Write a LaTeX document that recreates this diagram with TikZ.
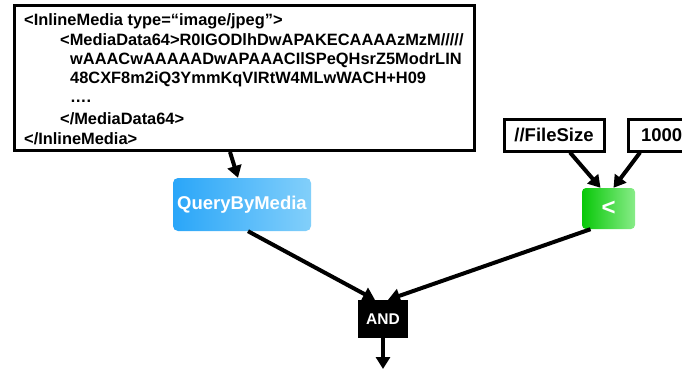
\documentclass[tikz,border=0pt]{standalone}
\usepackage{fontspec}
\setmainfont{Liberation Sans}
\usetikzlibrary{arrows.meta,calc}
\definecolor{qleft}{HTML}{2AA6F9}
\definecolor{qright}{HTML}{82CFFA}
\definecolor{gleft}{HTML}{08C808}
\definecolor{gright}{HTML}{88EC88}
\tikzset{
  arr/.style={line width=4pt,-{Triangle[length=12pt,width=14pt]}},
  codeline/.style={anchor=base west,inner sep=0pt,font=\fontsize{16.4}{18}\selectfont\bfseries},
  valbox/.style={draw,line width=3pt,fill=white,font=\fontsize{18.5}{20}\selectfont\bfseries,inner sep=0pt},
}
\begin{document}
\begin{tikzpicture}[x=1pt,y=-1pt]
\useasboundingbox (0,0) rectangle (682,370);
\clip (0,0) rectangle (682,370);
% main box
\node[draw,line width=3pt,minimum width=460pt,minimum height=145pt,inner sep=0pt] (main) at (244.5,78) {};
\node[codeline] (l1) at (24,25) {<InlineMedia type=“image/jpeg\symbol{34}>};
\node[codeline] (l2) at (60,45) {<MediaData64>R0IGODlhDwAPAKECAAAAzMzM/////};
\node[codeline] (l3) at (70,64) {wAAACwAAAAADwAPAAACIlSPeQHsrZ5ModrLIN};
\node[codeline] (l4) at (70,83) {48CXF8m2iQ3YmmKqVIRtW4MLwWACH+H09};
\node[codeline] (l5) at (70,102) {….};
\node[codeline] (l6) at (60,124) {</MediaData64>};
\node[codeline] (l7) at (24,144) {</InlineMedia>};
% QueryByMedia
\node[rounded corners=5pt,left color=qleft,right color=qright,minimum width=138pt,minimum height=53pt,inner sep=0pt,text=white,font=\fontsize{18.5}{20}\selectfont\bfseries] (qbm) at (242,204.5) {QueryByMedia};
% FileSize, 1000
\node[valbox,minimum width=100pt,minimum height=32pt] (fs) at (554,135) {//FileSize};
\node[valbox,minimum width=62pt,minimum height=32pt,text width=52pt,align=left] (k) at (659,135) {\hspace*{8pt}1000};
% less than
\node[rounded corners=4pt,left color=gleft,right color=gright,minimum width=53pt,minimum height=41pt,inner sep=0pt,text=white,font=\fontsize{24}{26}\selectfont\bfseries] (lt) at (608.5,208.5) {<};
% AND
\node[fill=black,minimum width=50pt,minimum height=38pt,inner sep=0pt,text=white,font=\fontsize{15.5}{17}\selectfont\bfseries] (and) at (383,319) {AND};
\coordinate (out) at (383,369);
% connectors
\draw[arr] ([xshift=-14.5pt]main.south) -- ([xshift=-4pt]qbm.north);
\draw[arr] ([xshift=16pt]fs.south) -- ([xshift=-8pt]lt.north);
\draw[arr] ([xshift=-19pt]k.south) -- ([xshift=5pt]lt.north);
\draw[arr] ([xshift=6pt]qbm.south) -- ([xshift=-8pt]and.north);
\draw[arr] ([xshift=-18pt]lt.south) -- ([xshift=5pt]and.north);
\draw[arr] (and.south) -- (out);
\end{tikzpicture}
\end{document}
